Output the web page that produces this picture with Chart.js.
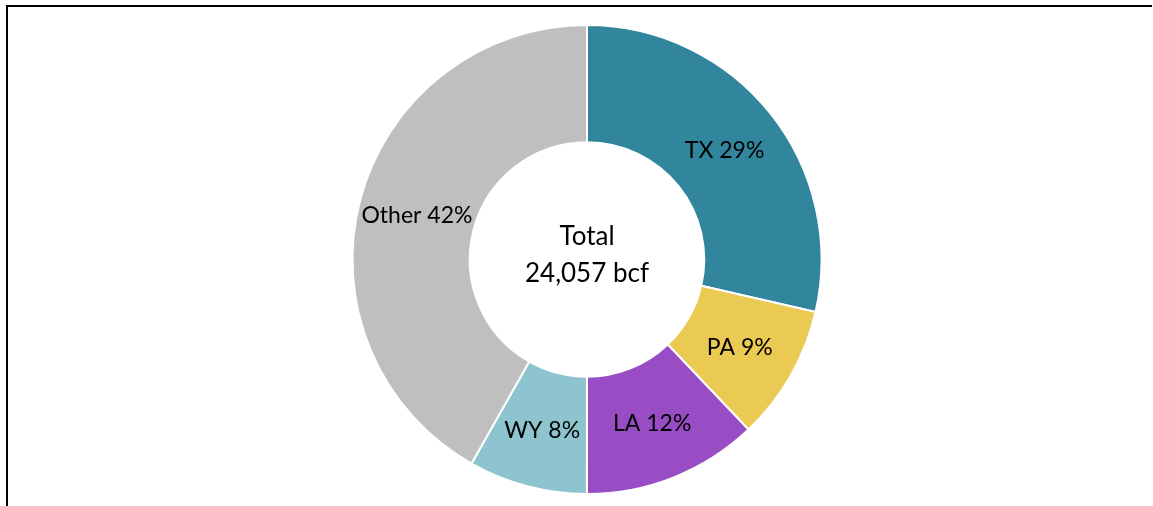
<!DOCTYPE html>
<html>
<head>
<meta charset="utf-8">
<script src="https://cdn.jsdelivr.net/npm/chart.js@4"></script>
<style>
  html, body { margin: 0; padding: 0; background: #fff; }
  #wrap { position: relative; width: 1153px; height: 506px; }
</style>
</head>
<body>
<div id="wrap"><canvas id="donutChart"></canvas></div>
<script>
const states = ['TX', 'PA', 'LA', 'WY', 'Other'];
const volumes = [6880, 2240, 2910, 1970, 10057]; // bcf
const totalLabel = ['Total', '24,057 bcf'];
const colors = ['#31869D', '#EBCA53', '#984DC5', '#8EC4CF', '#BFBFBF'];

const fontFamily = "Lato, 'Open Sans', sans-serif";

// frame lines (left + top of the original box)
const framePlugin = {
  id: 'frame',
  beforeDraw(chart) {
    const ctx = chart.ctx;
    ctx.save();
    ctx.fillStyle = '#000';
    ctx.fillRect(6, 5, 2, 501);
    ctx.fillRect(6, 5, 1146, 2);
    ctx.restore();
  }
};

// slice labels and centre text
const labelPlugin = {
  id: 'sliceLabels',
  afterDatasetsDraw(chart) {
    const ctx = chart.ctx;
    const meta = chart.getDatasetMeta(0);
    const data = chart.data.datasets[0].data;
    const sum = data.reduce((a, b) => a + b, 0);
    ctx.save();
    ctx.fillStyle = '#000';
    ctx.textAlign = 'center';
    ctx.textBaseline = 'middle';
    ctx.font = `23px ${fontFamily}`;
    meta.data.forEach((arc, i) => {
      const p = arc.tooltipPosition();
      const pct = Math.round(data[i] / sum * 100);
      ctx.fillText(`${chart.data.labels[i]} ${pct}%`, p.x, p.y + 1);
    });
    const c = meta.data[0];
    ctx.font = `26px ${fontFamily}`;
    ctx.fillText(totalLabel[0], c.x, c.y - 23);
    ctx.fillText(totalLabel[1], c.x, c.y + 14);
    ctx.restore();
  }
};

new Chart(document.getElementById('donutChart'), {
  type: 'doughnut',
  data: {
    labels: states,
    datasets: [{
      data: volumes,
      backgroundColor: colors,
      borderColor: '#fff',
      borderWidth: 2,
      hoverOffset: 0,
    }]
  },
  options: {
    responsive: true,
    maintainAspectRatio: false,
    animation: false,
    cutout: '50%',
    layout: { padding: { top: 24, bottom: 11, left: 21, right: 0 } },
    plugins: {
      legend: { display: false },
      tooltip: { enabled: false }
    }
  },
  plugins: [framePlugin, labelPlugin]
});
</script>
</body>
</html>
